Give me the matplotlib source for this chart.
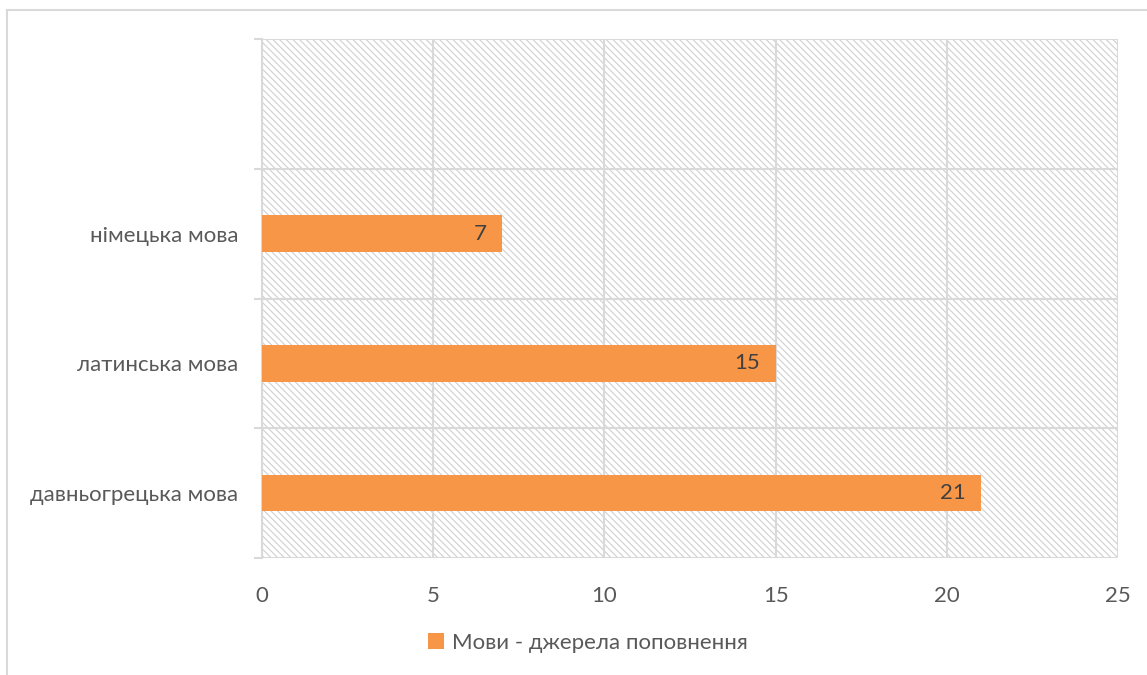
import matplotlib.pyplot as plt
from matplotlib.patches import Rectangle
from matplotlib.lines import Line2D

# Source languages and number of borrowed terms
languages = ['давньогрецька мова', 'латинська мова', 'німецька мова', '']
counts = [21, 15, 7, None]
series_name = 'Мови - джерела поповнення'
x_ticks = [0, 5, 10, 15, 20, 25]

BAR = '#F79646'
GRID = '#D9D9D9'
TEXT = '#595959'

plt.rcParams['font.family'] = ['Lato', 'DejaVu Sans']
plt.rcParams['hatch.color'] = '#D0D0D0'
plt.rcParams['hatch.linewidth'] = 0.8


def main():
    fig = plt.figure(figsize=(11.47, 6.75), dpi=100)
    ax = fig.add_axes([262 / 1147, 1 - 558 / 675, (1118 - 262) / 1147, (558 - 39) / 675])

    # hatched plot area background
    ax.add_patch(Rectangle((0, 0), 1, 1, transform=ax.transAxes, facecolor='white',
                           edgecolor='#D0D0D0', hatch='\\' * 5, linewidth=0, zorder=0))

    ypos = list(range(len(languages)))
    vals = [c for c in counts if c is not None]
    bars = ax.barh(ypos[:len(vals)], vals, height=0.28, color=BAR, zorder=3, label=series_name)
    for b, v in zip(bars, vals):
        ax.text(b.get_width() - 0.45, b.get_y() + b.get_height() / 2, str(v),
                ha='right', va='center', fontsize=16, color='#404040', zorder=4)

    ax.set_xlim(x_ticks[0], x_ticks[-1])
    ax.set_ylim(-0.5, len(languages) - 0.5)
    ax.set_xticks(x_ticks)
    ax.set_yticks(ypos)
    ax.set_yticklabels(languages)
    ax.set_yticks([i - 0.5 for i in range(len(languages) + 1)], minor=True)

    ax.grid(axis='x', color=GRID, linewidth=1.5, zorder=1)
    ax.grid(axis='y', which='minor', color=GRID, linewidth=1.5, zorder=1)
    ax.set_axisbelow(True)

    ax.tick_params(axis='x', length=0, pad=20, labelsize=16, labelcolor=TEXT)
    ax.tick_params(axis='y', which='major', length=0, pad=17, labelsize=16, labelcolor=TEXT)
    ax.tick_params(axis='y', which='minor', length=6, width=1.5, color=GRID)

    for side in ['top', 'right', 'bottom']:
        ax.spines[side].set_visible(False)
    ax.spines['left'].set_color(GRID)
    ax.spines['left'].set_linewidth(1.5)

    fig.legend(loc='center', bbox_to_anchor=(588 / 1147, 1 - 643 / 675), frameon=False,
               fontsize=16, labelcolor=TEXT, handlelength=0.7, handleheight=0.7,
               handletextpad=0.35)

    # chart frame (left and top edges)
    fig.add_artist(Line2D([7 / 1147, 7 / 1147], [0, 1 - 10 / 675], color=GRID, linewidth=1.5))
    fig.add_artist(Line2D([7 / 1147, 1], [1 - 10 / 675, 1 - 10 / 675], color=GRID, linewidth=1.5))

    fig.savefig('out.png', dpi=100)


if __name__ == '__main__':
    main()
